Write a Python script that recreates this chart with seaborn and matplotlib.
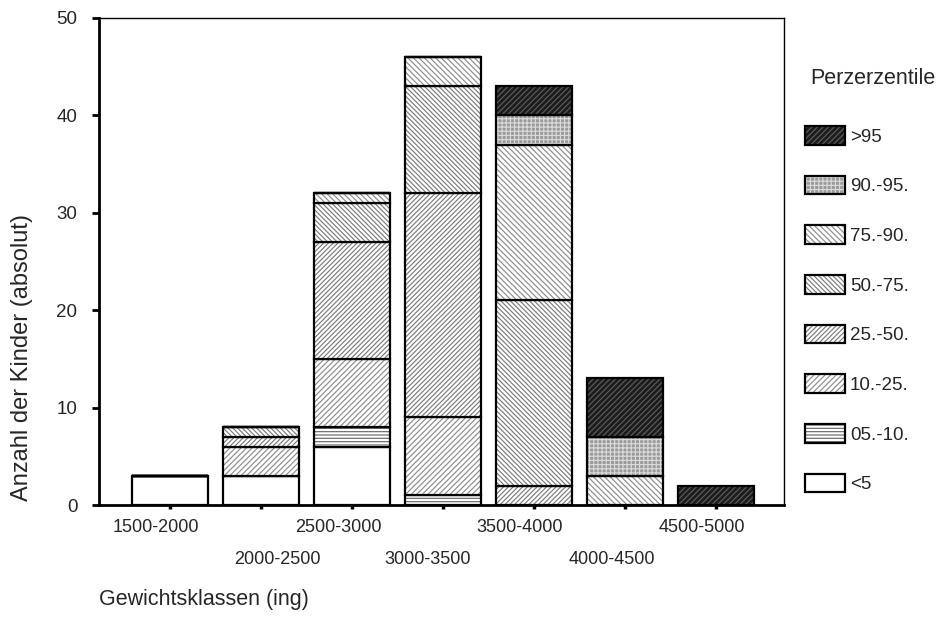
import matplotlib
matplotlib.use("Agg")
import numpy as np
import pandas as pd
import matplotlib.pyplot as plt
from matplotlib.patches import Patch
from matplotlib.transforms import ScaledTranslation
import seaborn as sns

# Weight classes (g) and percentile groups
klassen = ["1500-2000", "2000-2500", "2500-3000", "3000-3500",
           "3500-4000", "4000-4500", "4500-5000"]
perzentile = ["<5", "05.-10.", "10.-25.", "25.-50.",
              "50.-75.", "75.-90.", "90.-95.", ">95"]

# Number of children per weight class, one list per percentile group
n_lt5 = [3, 3, 6, 0, 0, 0, 0]
n_05_10 = [0, 0, 2, 1, 0, 0, 0]
n_10_25 = [0, 3, 7, 8, 0, 0, 0]
n_25_50 = [0, 1, 12, 23, 2, 0, 0]
n_50_75 = [0, 1, 4, 11, 19, 0, 0]
n_75_90 = [0, 0, 1, 3, 16, 3, 0]
n_90_95 = [0, 0, 0, 0, 3, 4, 0]
n_gt95 = [0, 0, 0, 0, 3, 6, 2]

y_ticks = [0, 10, 20, 30, 40, 50]

counts = [n_lt5, n_05_10, n_10_25, n_25_50, n_50_75, n_75_90, n_90_95, n_gt95]

df = pd.DataFrame(
    [(k, p, c[i]) for p, c in zip(perzentile, counts) for i, k in enumerate(klassen)],
    columns=["Gewichtsklasse", "Perzentile", "Anzahl"],
)

# fill, hatch pattern, hatch colour for every percentile group
styles = {
    "<5": ("white", None, "white"),
    "05.-10.": ("white", "-----", "#6a6a6a"),
    "10.-25.": ("white", "//////", "#8c8c8c"),
    "25.-50.": ("white", "///////", "#7c7c7c"),
    "50.-75.": ("white", "\\\\\\\\\\\\\\", "#7c7c7c"),
    "75.-90.": ("white", "\\\\\\\\\\\\", "#8c8c8c"),
    "90.-95.": ("#9a9a9a", "++++", "#dadada"),
    ">95": ("#1c1c1c", "//////", "#5c5c5c"),
}

sns.set_style("ticks")
plt.rcParams["font.family"] = ["Liberation Sans", "DejaVu Sans"]
plt.rcParams["hatch.linewidth"] = 0.85

fig = plt.figure(figsize=(9.38, 6.25), dpi=100)
ax = fig.add_axes([99 / 938, 1 - 505 / 625, 685 / 938, 487 / 625])

bar_w = 0.835
bottom = np.zeros(len(klassen))
for p in perzentile:
    sub = df[df["Perzentile"] == p]
    fc, hatch, hc = styles[p]
    # hatched fill (hatch colour follows the edge colour)
    sns.barplot(data=sub, x="Gewichtsklasse", y="Anzahl", order=klassen,
                errorbar=None, width=bar_w, bottom=bottom.copy(), color=fc,
                saturation=1, facecolor=fc, edgecolor=hc, hatch=hatch,
                linewidth=0, ax=ax)
    # black outline of each segment
    sns.barplot(data=sub, x="Gewichtsklasse", y="Anzahl", order=klassen,
                errorbar=None, width=bar_w, bottom=bottom.copy(), color="black",
                saturation=1, fill=False, edgecolor="black", linewidth=1.6, ax=ax)
    bottom += sub.set_index("Gewichtsklasse").loc[klassen, "Anzahl"].to_numpy()

ax.set_xlim(-0.78, 6.75)
ax.set_ylim(0, 50)
ax.set_yticks(y_ticks)
ax.set_yticklabels([str(t) for t in y_ticks], fontsize=13.5)
ax.tick_params(axis="y", length=5, width=2, pad=10.5, color="black")
ax.tick_params(axis="x", length=3, width=2.5, pad=7, color="black")

ax.set_xticks(range(len(klassen)))
ax.set_xticklabels(klassen, fontsize=13)
x_shift = [-14, 16, -14, -15, -14, -13, -14]
for i, lab in enumerate(ax.get_xticklabels()):
    dy = 0 if i % 2 == 0 else -32
    lab.set_transform(lab.get_transform()
                      + ScaledTranslation(x_shift[i] / 100, dy / 100, fig.dpi_scale_trans))

for side in ["left", "bottom"]:
    ax.spines[side].set_visible(True)
    ax.spines[side].set_linewidth(2)
for side in ["top", "right"]:
    ax.spines[side].set_visible(True)
    ax.spines[side].set_linewidth(1)
for s in ax.spines.values():
    s.set_color("black")

ax.set_ylabel("Anzahl der Kinder (absolut)", fontsize=17)
ax.yaxis.set_label_coords(-0.096, 0.302)
ax.set_xlabel("Gewichtsklassen (ing)", fontsize=15.5, ha="left")
ax.xaxis.set_label_coords(0.0, -0.172)

# Legend: hatched fill overlaid with a black frame
handles = []
for p in perzentile[::-1]:
    fc, hatch, hc = styles[p]
    handles.append((Patch(facecolor=fc, edgecolor=hc, hatch=hatch, linewidth=0),
                    Patch(facecolor="none", edgecolor="black", linewidth=1.6)))
ax.legend(handles, perzentile[::-1], loc="upper left",
          bbox_to_anchor=(805 / 938, 1 - 126 / 625), bbox_transform=fig.transFigure,
          frameon=False, fontsize=13.5, handlelength=2.13, handleheight=1.15,
          labelspacing=1.6, handletextpad=0.27, borderpad=0, borderaxespad=0)
fig.text(810 / 938, 1 - 78 / 625, "Perzerzentile", fontsize=15.5, va="center", ha="left")

fig.savefig("out.png", dpi=100)
